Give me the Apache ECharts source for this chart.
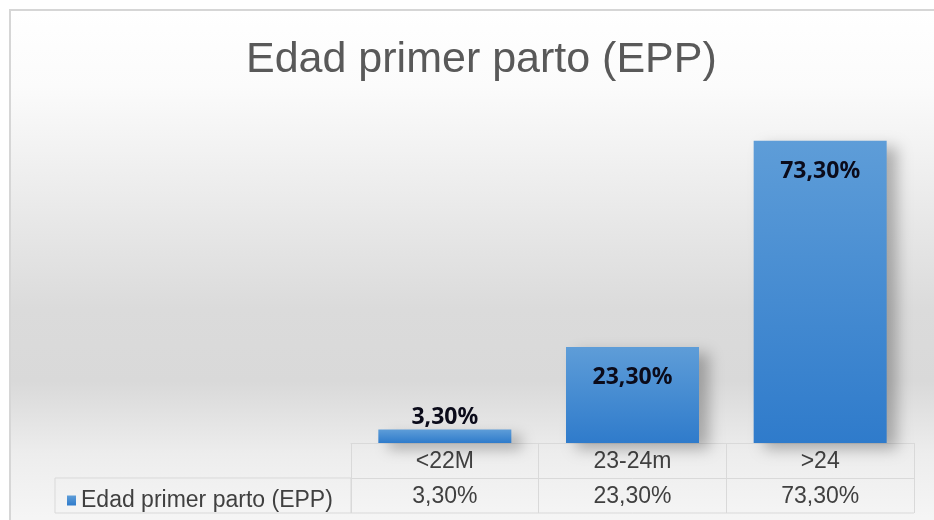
<!DOCTYPE html>
<html>
<head>
<meta charset="utf-8">
<script src="https://cdn.jsdelivr.net/npm/echarts@6/dist/echarts.min.js"></script>
<style>
  html, body { margin: 0; padding: 0; background: #fff; }
  #main1 { width: 934px; height: 520px; }
</style>
</head>
<body>
<div id="main1"></div>
<script>
var dom1 = document.getElementById("main1");
var myChart1 = echarts.init(dom1);

var titulo = 'Edad primer parto (EPP)';
var serieNombre = 'Edad primer parto (EPP)';
var categorias = ['<22M', '23-24m', '>24'];
var valores = [3.3, 23.3, 73.3];

function pct(v) {
    return v.toFixed(2).replace('.', ',') + '%';
}
var etiquetasTabla = valores.map(pct);

var lineaTabla = '#d9d9d9';
var textoTabla = '#404040';

var barData = valores.map(function (v) {
    // barra baja: etiqueta por encima
    if (v < 10) {
        return { value: v, label: { position: 'top', distance: 0 } };
    }
    return v;
});

option = {
    animation: false,
    title: {
        text: titulo,
        left: 241,
        top: 34,
        textStyle: {
            fontFamily: 'Liberation Sans',
            fontSize: 43,
            fontWeight: 'normal',
            color: '#595959'
        }
    },
    legend: {
        data: [serieNombre],
        left: 62,
        top: 484,
        icon: 'rect',
        itemWidth: 9,
        itemHeight: 10,
        itemGap: 6,
        textStyle: {
            fontFamily: 'Liberation Sans',
            fontSize: 23,
            color: textoTabla
        }
    },
    graphic: [{
        type: 'rect',
        z: -10,
        shape: { x: 10, y: 10, width: 930, height: 515 },
        style: {
            fill: {
                type: 'linear', x: 0, y: 0, x2: 0, y2: 1,
                colorStops: [
                    { offset: 0, color: '#ffffff' },
                    { offset: 0.15, color: '#fbfbfb' },
                    { offset: 0.3, color: '#f0f0f0' },
                    { offset: 0.58, color: '#dbdbdb' },
                    { offset: 0.72, color: '#d9d9d9' },
                    { offset: 0.86, color: '#ededed' },
                    { offset: 1, color: '#f6f6f6' }
                ]
            },
            stroke: '#d6d6d6',
            lineWidth: 2
        }
    }, {
        type: 'rect',
        shape: { x: 55, y: 478, width: 296, height: 35 },
        style: { fill: 'none', stroke: lineaTabla, lineWidth: 1 }
    }, {
        type: 'line',
        shape: { x1: 351, y1: 513, x2: 914, y2: 513 },
        style: { stroke: lineaTabla, lineWidth: 1 }
    }],
    grid: {
        left: 351,
        right: 20,
        top: 113,
        bottom: 77
    },
    xAxis: [{
        type: 'category',
        data: categorias,
        position: 'bottom',
        axisLine: { show: true, lineStyle: { color: lineaTabla } },
        axisTick: { show: true, length: 35, lineStyle: { color: lineaTabla } },
        axisLabel: {
            margin: 7,
            fontFamily: 'Liberation Sans',
            fontSize: 23,
            color: textoTabla
        }
    }, {
        type: 'category',
        data: etiquetasTabla,
        position: 'bottom',
        offset: 35,
        axisLine: { show: true, lineStyle: { color: lineaTabla } },
        axisTick: { show: true, length: 35, lineStyle: { color: lineaTabla } },
        axisLabel: {
            margin: 7,
            fontFamily: 'Liberation Sans',
            fontSize: 23,
            color: textoTabla
        }
    }],
    yAxis: {
        type: 'value',
        min: 0,
        max: 80,
        show: false
    },
    series: [{
        type: 'bar',
        name: serieNombre,
        data: barData,
        xAxisIndex: 0,
        barWidth: 133,
        itemStyle: {
            color: {
                type: 'linear', x: 0, y: 0, x2: 0, y2: 1,
                colorStops: [
                    { offset: 0, color: '#5e9dd8' },
                    { offset: 1, color: '#2f7bcb' }
                ]
            },
            shadowColor: 'rgba(0,0,0,0.28)',
            shadowBlur: 14,
            shadowOffsetX: 10,
            shadowOffsetY: 6
        },
        label: {
            show: true,
            position: 'insideTop',
            distance: 19,
            fontFamily: 'Noto Sans',
            fontWeight: 'bold',
            fontSize: 23,
            color: '#0b0b1a',
            formatter: function (p) { return pct(p.value); }
        }
    }]
};

if (option && typeof option === "object") {
    myChart1.setOption(option, true);
}
</script>
</body>
</html>
